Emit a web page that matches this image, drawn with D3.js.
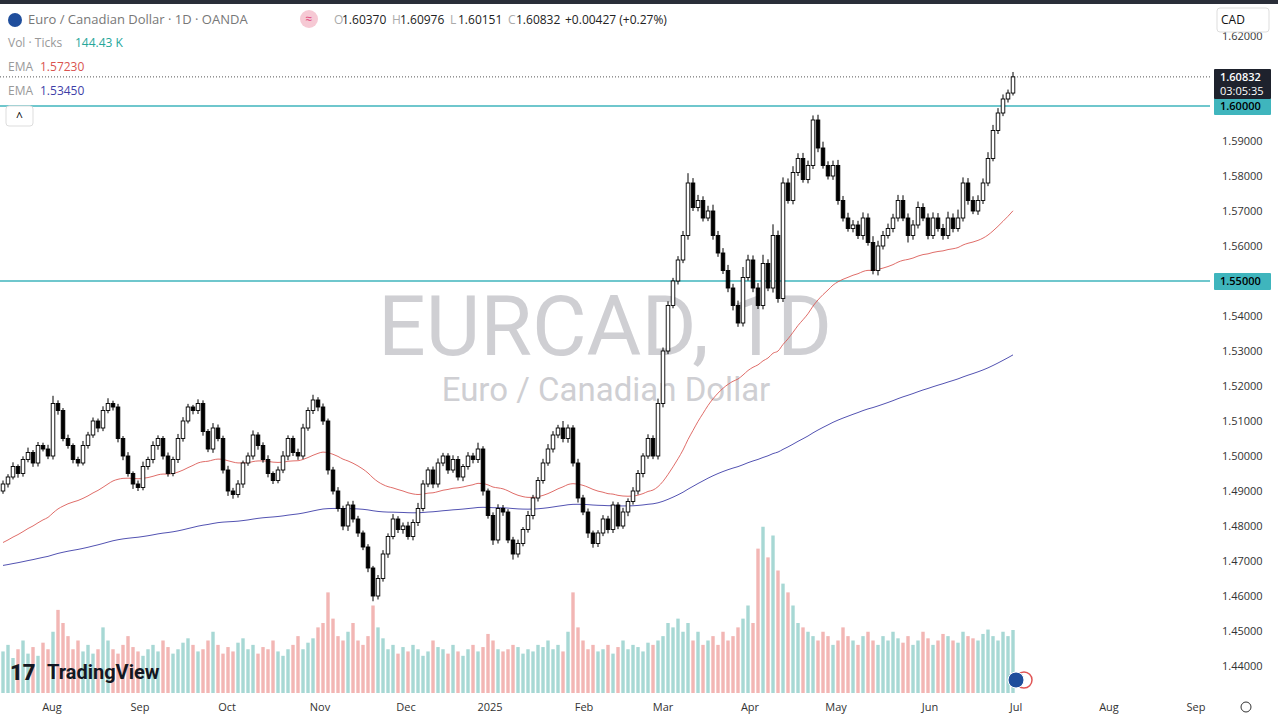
<!DOCTYPE html>
<html><head><meta charset="utf-8">
<script src="https://cdn.jsdelivr.net/npm/d3@7"></script>
<style>body{margin:0;background:#fff;font-family:"Open Sans",Roboto,sans-serif}</style>
</head><body><svg id="c" width="1278" height="721"></svg>
<script>
const closes=[1.492,1.494,1.497,1.495,1.499,1.501,1.498,1.503,1.502,1.500,
1.515,1.513,1.505,1.503,1.499,1.498,1.503,1.506,1.510,1.508,
1.513,1.515,1.514,1.505,1.500,1.495,1.492,1.491,1.497,1.499,
1.503,1.505,1.500,1.495,1.499,1.505,1.510,1.514,1.513,1.515,
1.507,1.502,1.508,1.505,1.496,1.490,1.489,1.492,1.498,1.500,
1.506,1.503,1.499,1.495,1.493,1.496,1.500,1.505,1.501,1.500,
1.508,1.513,1.516,1.514,1.510,1.496,1.490,1.485,1.480,1.486,
1.482,1.478,1.474,1.468,1.460,1.465,1.472,1.477,1.482,1.479,
1.480,1.477,1.481,1.485,1.492,1.496,1.492,1.498,1.500,1.496,
1.499,1.494,1.497,1.500,1.499,1.502,1.490,1.483,1.476,1.485,
1.484,1.476,1.472,1.475,1.479,1.483,1.488,1.493,1.498,1.502,
1.506,1.508,1.505,1.508,1.498,1.488,1.484,1.478,1.475,1.478,
1.482,1.479,1.486,1.480,1.484,1.487,1.490,1.495,1.500,1.505,
1.500,1.515,1.530,1.543,1.550,1.556,1.563,1.578,1.571,1.573,
1.568,1.570,1.563,1.558,1.553,1.548,1.543,1.538,1.551,1.556,
1.548,1.543,1.555,1.548,1.563,1.545,1.578,1.573,1.581,1.585,
1.579,1.583,1.596,1.588,1.583,1.580,1.583,1.573,1.568,1.565,
1.566,1.563,1.568,1.561,1.553,1.560,1.563,1.565,1.568,1.573,
1.568,1.563,1.566,1.571,1.568,1.563,1.568,1.565,1.563,1.568,
1.565,1.568,1.578,1.573,1.570,1.573,1.578,1.585,1.593,1.598,
1.602,1.6037,1.60832];
const wickUp=[10,8,12,6,9,14,7,10,8,12,22,9,7,11,6,8,13,9,10,7,
12,15,8,9,7,11,6,10,14,8,12,9,7,10,8,13,11,9,6,12,
9,7,14,10,8,12,9,11,7,10,13,8,9,12,6,10,14,9,8,11,
12,9,15,8,10,7,9,11,8,10,12,9,7,8,6,10,11,9,14,8,
10,12,9,16,11,8,10,13,9,8,12,10,7,11,9,18,8,7,9,12,
10,8,9,11,7,13,9,10,12,14,11,9,20,10,8,12,9,10,7,8,
11,9,10,8,12,9,11,10,8,12,9,14,10,12,9,11,13,28,14,16,
12,15,18,13,14,16,12,14,30,15,13,14,25,12,32,14,16,13,18,15,
16,14,13,15,18,12,14,16,13,15,14,12,16,13,18,15,13,14,12,16,
15,13,14,17,12,13,16,14,13,18,13,24,16,14,12,15,13,18,16,14,
13,10,14];
const wickDn=[8,10,7,12,9,8,11,10,7,9,10,12,8,9,11,10,7,9,8,12,
9,8,10,11,12,9,14,10,8,9,11,12,10,9,8,10,9,7,11,10,
12,9,11,8,10,14,12,9,11,8,10,12,9,11,10,8,9,12,10,11,
9,8,10,12,11,13,10,9,12,14,10,11,9,12,15,10,9,11,8,10,
12,9,11,10,8,9,12,10,9,11,8,10,12,9,11,10,13,9,14,10,
11,9,16,10,8,9,11,10,9,8,10,9,11,12,10,13,9,14,12,10,
9,11,10,9,8,12,9,10,11,8,9,10,11,9,8,10,9,12,10,11,
10,9,12,11,10,12,14,11,10,9,12,10,11,9,13,12,10,9,11,10,
9,11,10,12,9,10,11,12,10,9,11,10,12,9,11,14,10,9,11,10,
9,20,12,10,9,11,10,9,12,10,11,9,10,12,9,11,10,9,8,10,
9,10,7];
const volumes=[95,110,80,100,120,90,105,85,115,100,140,190,160,130,100,120,95,110,90,100,
150,120,100,90,110,130,105,95,85,100,110,95,120,105,90,100,115,125,110,95,
100,120,140,110,90,105,95,115,125,100,110,90,105,100,120,95,85,100,110,130,
100,115,125,150,160,230,170,130,120,140,160,120,110,130,200,150,125,100,110,90,
105,95,110,100,85,95,120,105,100,90,110,95,85,100,110,95,105,135,120,100,
95,100,110,105,90,100,95,110,105,120,100,110,95,140,230,150,120,100,110,95,
100,110,90,105,120,100,110,105,95,115,110,120,130,160,150,170,140,160,120,140,
110,120,130,110,140,120,130,150,170,200,160,330,380,310,360,280,250,230,200,160,
150,140,130,120,140,130,110,120,150,130,120,110,130,140,120,110,130,120,140,125,
115,130,110,120,140,125,110,120,135,130,120,115,140,130,125,120,135,145,130,120,
140,130,144];
const monthLabels=["Aug","Sep","Oct","Nov","Dec","2025","Feb","Mar","Apr","May","Jun","Jul","Aug","Sep"];
const monthPos=[9.8,27.4,44.8,63.4,80.6,97.4,116.2,132,149.4,166.6,185.4,202.6,221.2,238.6];
const priceTicks=[1.44,1.45,1.46,1.47,1.48,1.49,1.50,1.51,1.52,1.53,1.54,1.55,1.56,1.57,1.58,1.59,1.60,1.61,1.62];
const levels=[1.60,1.55];
const ema50Seed=1.4746, ema200Seed=1.4685;

const svg=d3.select("#c");
const N=closes.length;
const x=d3.scaleLinear().domain([0,N-1]).range([3,1013]);
const y=d3.scaleLinear().domain([1.55,1.60]).range([281,106]);
const vy=d3.scaleLinear().domain([0,400]).range([693,518]);
const plotW=1210;
svg.append("rect").attr("width",1278).attr("height",4).attr("fill","#2a2e39");
const g=svg.append("g");
g.append("text").attr("x",605).attr("y",355).attr("text-anchor","middle").attr("font-size",84).attr("fill","#cfcfd3").attr("font-family","Roboto,sans-serif").text("EURCAD, 1D");
g.append("text").attr("x",606).attr("y",401).attr("text-anchor","middle").attr("font-size",33).attr("fill","#cfcfd3").attr("font-family","Roboto,sans-serif").text("Euro / Canadian Dollar");
const opens=closes.map((c,i)=>i===0?c-0.002:closes[i-1]);
g.selectAll(".v").data(volumes).join("rect").attr("x",(d,i)=>x(i)-1.7).attr("width",3.4)
 .attr("y",d=>vy(d)).attr("height",d=>693-vy(d))
 .attr("fill",(d,i)=>closes[i]>=opens[i]?"#a7d8d4":"#f2b6b4");
levels.forEach(l=>g.append("line").attr("x1",0).attr("x2",plotW).attr("y1",y(l)).attr("y2",y(l)).attr("stroke","#3fb5bd").attr("stroke-width",1.3));
g.append("line").attr("x1",0).attr("x2",plotW).attr("y1",y(closes[N-1])).attr("y2",y(closes[N-1])).attr("stroke","#555").attr("stroke-dasharray","1,2");
function ema(seed,p){const k=2/(p+1);let e=seed;return closes.map(c=>e=c*k+e*(1-k));}
const line=d3.line().x((d,i)=>x(i)).y(d=>y(d)).curve(d3.curveMonotoneX);
g.append("path").attr("d",line(ema(ema50Seed,50))).attr("fill","none").attr("stroke","#d9534f").attr("stroke-width",1).attr("opacity",0.85);
g.append("path").attr("d",line(ema(ema200Seed,200))).attr("fill","none").attr("stroke","#3f3fa8").attr("stroke-width",1).attr("opacity",0.9);
const cg=g.selectAll(".c").data(closes).join("g");
cg.append("line").attr("x1",(d,i)=>x(i)).attr("x2",(d,i)=>x(i))
 .attr("y1",(d,i)=>y(Math.max(d,opens[i])+wickUp[i]/10000)).attr("y2",(d,i)=>y(Math.min(d,opens[i])-wickDn[i]/10000)).attr("stroke","#000");
cg.append("rect").attr("x",(d,i)=>x(i)-1.8).attr("width",3.6)
 .attr("y",(d,i)=>y(Math.max(d,opens[i]))).attr("height",(d,i)=>Math.max(1,Math.abs(y(d)-y(opens[i]))))
 .attr("fill",(d,i)=>d>=opens[i]?"#fff":"#000").attr("stroke","#000").attr("stroke-width",0.9);
svg.append("rect").attr("x",plotW).attr("y",4).attr("width",68).attr("height",717).attr("fill","#fff");
const last=closes[N-1];
svg.selectAll(".pt").data(priceTicks.filter(d=>Math.abs(y(d)-y(last))>22 && d!==1.60 && d!==1.55)).join("text").attr("x",1222).attr("y",d=>y(d)+4).attr("font-size",11).attr("fill","#333").text(d=>d.toFixed(5));
function tag(v,bg,fg,h,extra){const yy=y(v);svg.append("rect").attr("x",1214).attr("y",yy-8).attr("width",57).attr("height",h).attr("fill",bg).attr("rx",1);
 svg.append("text").attr("x",1220).attr("y",yy+4).attr("font-size",11).attr("font-weight",600).attr("fill",fg).text(v.toFixed(5));
 if(extra)svg.append("text").attr("x",1220).attr("y",yy+18).attr("font-size",11).attr("fill",fg).text(extra);}
tag(1.60,"#3fb5bd","#000",17);tag(1.55,"#3fb5bd","#000",17);
tag(last,"#1e222d","#fff",30,"03:05:35");
svg.append("rect").attr("x",0).attr("y",697).attr("width",1278).attr("height",24).attr("fill","#fff");
svg.selectAll(".mt").data(monthLabels).join("text").attr("x",(d,i)=>x(monthPos[i])).attr("y",711).attr("text-anchor","middle").attr("font-size",11).attr("fill","#333").text(d=>d);
svg.append("circle").attr("cx",1246).attr("cy",707).attr("r",5).attr("fill","none").attr("stroke","#333");
const H=svg.append("g").attr("font-size",13);
H.append("circle").attr("cx",15).attr("cy",20).attr("r",7).attr("fill","#1f4e9c");
H.append("text").attr("x",28).attr("y",24).attr("fill","#777").text("Euro / Canadian Dollar · 1D · OANDA");
H.append("circle").attr("cx",309).attr("cy",19).attr("r",9).attr("fill","#f6c9d4");
H.append("text").attr("x",309).attr("y",23).attr("text-anchor","middle").attr("fill","#e0457b").attr("font-size",12).text("≈");
const ohlc=[["O","1.60370"],["H","1.60976"],["L","1.60151"],["C","1.60832"]];
let hx=334;ohlc.forEach(([k,v])=>{H.append("text").attr("x",hx).attr("y",24).attr("fill","#aaa").attr("font-size",12).text(k);H.append("text").attr("x",hx+8).attr("y",24).attr("fill","#222").attr("font-size",12).text(v);hx+=58;});
H.append("text").attr("x",565).attr("y",24).attr("fill","#222").attr("font-size",12).text("+0.00427 (+0.27%)");
H.append("text").attr("x",8).attr("y",47).attr("fill","#999").attr("font-size",12).text("Vol · Ticks");
H.append("text").attr("x",75).attr("y",47).attr("fill","#26a69a").attr("font-size",12).text("144.43 K");
H.append("text").attr("x",8).attr("y",71).attr("fill","#999").attr("font-size",12).text("EMA");
H.append("text").attr("x",40).attr("y",71).attr("fill","#d9534f").attr("font-size",12).text("1.57230");
H.append("text").attr("x",8).attr("y",95).attr("fill","#999").attr("font-size",12).text("EMA");
H.append("text").attr("x",40).attr("y",95).attr("fill","#3f3fa8").attr("font-size",12).text("1.53450");
svg.append("rect").attr("x",6).attr("y",106).attr("width",27).attr("height",20).attr("rx",3).attr("fill","#fff").attr("stroke","#ddd");
svg.append("text").attr("x",19.5).attr("y",121).attr("text-anchor","middle").attr("font-size",12).text("^");
svg.append("rect").attr("x",1217).attr("y",8).attr("width",52).attr("height",24).attr("rx",3).attr("fill","#fff").attr("stroke","#ddd");
svg.append("text").attr("x",1221).attr("y",24).attr("font-size",12).attr("fill","#111").text("CAD");
svg.append("text").attr("x",10).attr("y",680).attr("font-size",22).attr("font-weight",900).attr("fill","#131722").attr("font-family","Roboto,sans-serif").text("17");
svg.append("text").attr("x",47).attr("y",679).attr("font-size",20).attr("font-weight",700).attr("fill","#131722").attr("font-family","Roboto,sans-serif").text("TradingView");
svg.append("circle").attr("cx",1024).attr("cy",680).attr("r",8).attr("fill","none").attr("stroke","#e05555").attr("stroke-width",1.5);
svg.append("circle").attr("cx",1016).attr("cy",680).attr("r",8).attr("fill","#1f4e9c").attr("stroke","#fff");
</script></body></html>
